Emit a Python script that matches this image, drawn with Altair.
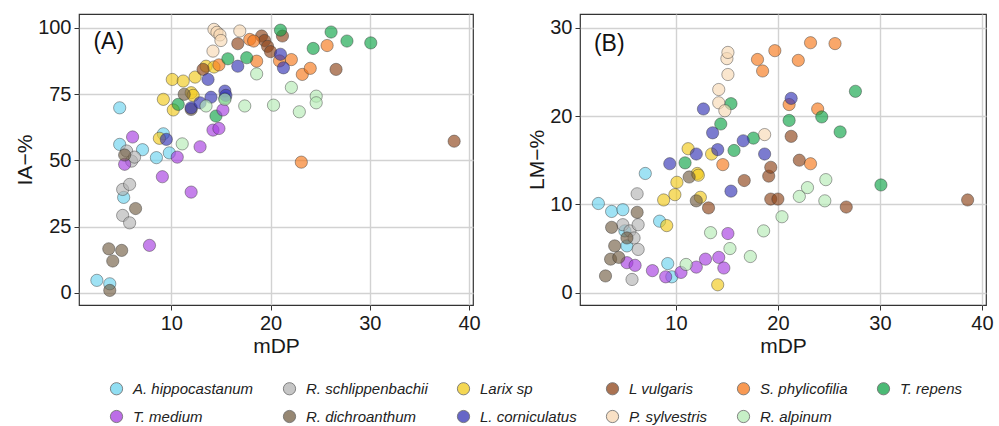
import altair as alt
import pandas as pd

SPECIES = ["A. hippocastanum", "R. schlippenbachii", "Larix sp", "L vulgaris",
           "S. phylicofilia", "T. repens", "T. medium", "R. dichroanthum",
           "L. corniculatus", "P. sylvestris", "R. alpinum"]
COLORS = ["#6CD3EE", "#B3B3B3", "#F1CA1A", "#8E4418", "#F6781A", "#10A448",
          "#A63DE0", "#735F45", "#3434B5", "#F8D8B3", "#B5EBB5"]

# Panel (A): (mDP, IA-%)
HIPPO_IA = [(2.5, 4.7), (3.8, 3.4), (4.8, 69.8), (4.8, 56.0), (5.2, 36.0), (7.1, 54.0),
            (8.5, 51.0), (9.2, 60.0), (9.8, 52.8)]
SCHLIP_IA = [(5.1, 39.0), (5.1, 29.2), (5.5, 53.5), (5.8, 40.9), (5.8, 26.4), (6.0, 49.7), (6.3, 51.2)]
LARIX_IA = [(8.8, 58.3), (9.2, 73.0), (10.1, 80.5), (10.2, 69.0), (11.2, 79.9), (12.0, 75.5),
            (12.2, 74.5), (12.4, 81.4), (13.5, 85.5), (14.3, 85.2)]
VULG_IA = [(13.2, 84.3), (16.7, 94.0), (19.1, 96.9), (19.4, 95.2), (19.7, 93.0), (20.0, 91.0),
           (21.2, 96.9), (26.6, 84.3), (38.5, 57.2)]
PHYL_IA = [(14.8, 86.0), (17.9, 95.6), (18.3, 95.0), (18.6, 87.4), (20.9, 87.5), (22.1, 88.0),
           (23.2, 82.4), (24.0, 84.7), (25.7, 93.3), (23.1, 49.3)]
REPENS_IA = [(10.7, 71.1), (14.5, 66.7), (15.4, 73.4), (15.7, 88.3), (17.6, 88.7), (21.0, 99.1),
             (24.3, 92.2), (26.1, 98.4), (27.7, 95.0), (30.1, 94.3)]
MEDIUM_IA = [(5.3, 48.5), (6.1, 58.8), (7.8, 17.9), (9.1, 43.8), (10.6, 51.2), (12.0, 38.0),
             (12.9, 55.1), (14.2, 61.4), (14.8, 62.0), (15.2, 69.0)]
DICHRO_IA = [(3.7, 16.6), (3.8, 0.9), (4.1, 12.0), (5.0, 16.0), (5.3, 52.0), (6.4, 31.8),
             (11.3, 74.9), (12.0, 69.2)]
CORNI_IA = [(9.5, 57.9), (12.0, 69.8), (12.9, 71.7), (13.7, 80.5), (14.0, 73.8), (15.4, 76.1),
            (15.5, 74.5), (16.7, 85.5), (21.0, 90.0), (21.3, 84.9)]
SYLV_IA = [(14.2, 91.2), (14.3, 99.4), (14.6, 98.3), (14.9, 97.3), (15.0, 95.2), (16.9, 98.8)]
ALPIN_IA = [(11.1, 56.2), (13.5, 70.5), (15.4, 73.0), (17.4, 70.5), (18.6, 82.6), (20.3, 70.8),
            (22.1, 77.5), (22.9, 68.3), (24.6, 74.2), (24.6, 71.7)]

# Panel (B): (mDP, LM-%)
HIPPO_LM = [(2.4, 10.1), (3.7, 9.2), (4.8, 9.4), (5.0, 7.0), (5.2, 5.3), (7.0, 13.5),
            (8.4, 8.1), (9.2, 3.3), (9.6, 1.8)]
SCHLIP_LM = [(4.8, 7.7), (5.5, 7.0), (5.7, 1.5), (5.9, 6.2), (6.2, 11.2), (6.3, 7.7), (6.3, 4.9)]
LARIX_LM = [(8.8, 10.5), (9.1, 7.6), (9.9, 11.1), (10.1, 12.5), (11.2, 16.3), (12.1, 13.5),
            (12.2, 13.3), (12.4, 10.8), (13.5, 15.7), (14.1, 0.9)]
VULG_LM = [(13.2, 9.6), (16.7, 12.7), (19.1, 13.2), (19.3, 14.2), (19.3, 10.6), (20.0, 10.6),
           (21.3, 17.7), (22.1, 15.0), (26.7, 9.7), (38.6, 10.5)]
PHYL_LM = [(14.6, 14.5), (18.0, 26.4), (18.5, 25.1), (19.7, 27.4), (21.1, 21.3), (22.0, 26.3),
           (23.2, 28.3), (23.2, 14.6), (23.9, 20.8), (25.6, 28.2)]
REPENS_LM = [(10.9, 14.7), (14.4, 19.1), (15.4, 21.4), (15.7, 16.1), (17.6, 17.5), (21.1, 19.5),
             (24.3, 19.9), (26.1, 18.2), (27.6, 22.8), (30.1, 12.2)]
MEDIUM_LM = [(5.2, 3.4), (6.0, 3.1), (7.7, 2.5), (9.0, 1.8), (10.5, 2.3), (12.0, 2.9),
             (12.9, 3.8), (14.2, 4.0), (14.7, 2.8), (15.1, 6.7)]
DICHRO_LM = [(3.1, 1.9), (3.6, 3.8), (3.7, 7.4), (4.0, 5.3), (4.4, 4.0), (5.2, 6.2),
             (6.2, 9.1), (11.3, 13.1), (12.0, 10.4)]
CORNI_LM = [(9.4, 14.6), (12.0, 15.7), (12.7, 20.8), (13.6, 18.1), (14.1, 16.2), (15.4, 11.5),
            (16.6, 17.2), (18.7, 15.7), (21.3, 22.0)]
SYLV_LM = [(14.2, 23.0), (14.2, 21.5), (14.8, 20.6), (15.0, 26.5), (15.1, 27.2), (15.1, 24.7),
           (18.7, 17.9)]
ALPIN_LM = [(11.0, 3.2), (13.4, 6.8), (15.3, 5.0), (17.3, 4.1), (18.6, 7.0), (20.4, 8.6),
            (22.1, 10.9), (22.9, 11.9), (24.6, 10.4), (24.7, 12.8)]

IA_TICKS = [0, 25, 50, 75, 100]
LM_TICKS = [0, 10, 20, 30]
X_TICKS = [10, 20, 30, 40]
PANEL_TAGS = ["(A)", "(B)"]

IA_SETS = [HIPPO_IA, SCHLIP_IA, LARIX_IA, VULG_IA, PHYL_IA, REPENS_IA,
           MEDIUM_IA, DICHRO_IA, CORNI_IA, SYLV_IA, ALPIN_IA]
LM_SETS = [HIPPO_LM, SCHLIP_LM, LARIX_LM, VULG_LM, PHYL_LM, REPENS_LM,
           MEDIUM_LM, DICHRO_LM, CORNI_LM, SYLV_LM, ALPIN_LM]


def frame(sets, col):
    rows = []
    for sp, pts in zip(SPECIES, sets):
        for x, y in pts:
            rows.append({"Species": sp, "mDP": x, col: y})
    return pd.DataFrame(rows)


dfA = frame(IA_SETS, "IA")
dfB = frame(LM_SETS, "LM")

color = alt.Color(
    "Species:N",
    scale=alt.Scale(domain=SPECIES, range=COLORS),
    sort=SPECIES,
    legend=alt.Legend(
        title=None, orient="none", legendX=30, legendY=367, columns=6,
        direction="horizontal", labelFontStyle="italic", labelFontSize=15,
        labelColor="#222222", symbolType="circle", symbolSize=150,
        symbolStrokeColor="#333333", symbolStrokeWidth=0.8, symbolOpacity=0.75,
        labelOffset=9, columnPadding=27, rowPadding=11, labelLimit=300,
    ),
)


def panel(df, ycol, ytitle, ydomain, yticks, xdomain, tag, tag_x, tag_y, width):
    pts = alt.Chart(df).mark_circle(
        size=150, fillOpacity=0.65, stroke="#333333", strokeWidth=0.8, strokeOpacity=0.55
    ).encode(
        x=alt.X("mDP:Q", scale=alt.Scale(domain=xdomain, nice=False, zero=False),
                axis=alt.Axis(values=X_TICKS, title="mDP")),
        y=alt.Y(f"{ycol}:Q", scale=alt.Scale(domain=ydomain, nice=False, zero=False),
                axis=alt.Axis(values=yticks, title=ytitle)),
        color=color,
    )
    lab = alt.Chart(pd.DataFrame({"tag": [tag]})).mark_text(
        fontSize=23, color="#111111", align="center", baseline="middle"
    ).encode(x=alt.datum(tag_x), y=alt.datum(tag_y), text="tag:N")
    return alt.layer(pts, lab).properties(width=width, height=291)


pA = panel(dfA, "IA", "IA\u2212%", [-4.6, 105.2], IA_TICKS, [0.7, 40.4],
           PANEL_TAGS[0], 3.7, 94.6, 394)
pB = panel(dfB, "LM", "LM\u2212%", [-1.39, 31.55], LM_TICKS, [0.6, 40.4],
           PANEL_TAGS[1], 3.47, 28.2, 406)

chart = alt.hconcat(pA, pB, spacing=45).properties(
    padding={"left": 14, "top": 13, "right": 4, "bottom": 0}
).configure(
    font="Liberation Sans"
).configure_view(
    stroke="#333333", strokeWidth=1.2
).configure_axis(
    labelFontSize=20, titleFontSize=21, titleFontWeight="normal",
    labelColor="#1a1a1a", titleColor="#1a1a1a",
    tickColor="#333333", tickSize=5, labelPadding=3, titlePadding=2,
    gridColor="#D2D2D2", gridWidth=1.4, domain=False,
)

chart.save("out.html", embed_options={"renderer": "svg", "actions": False})
